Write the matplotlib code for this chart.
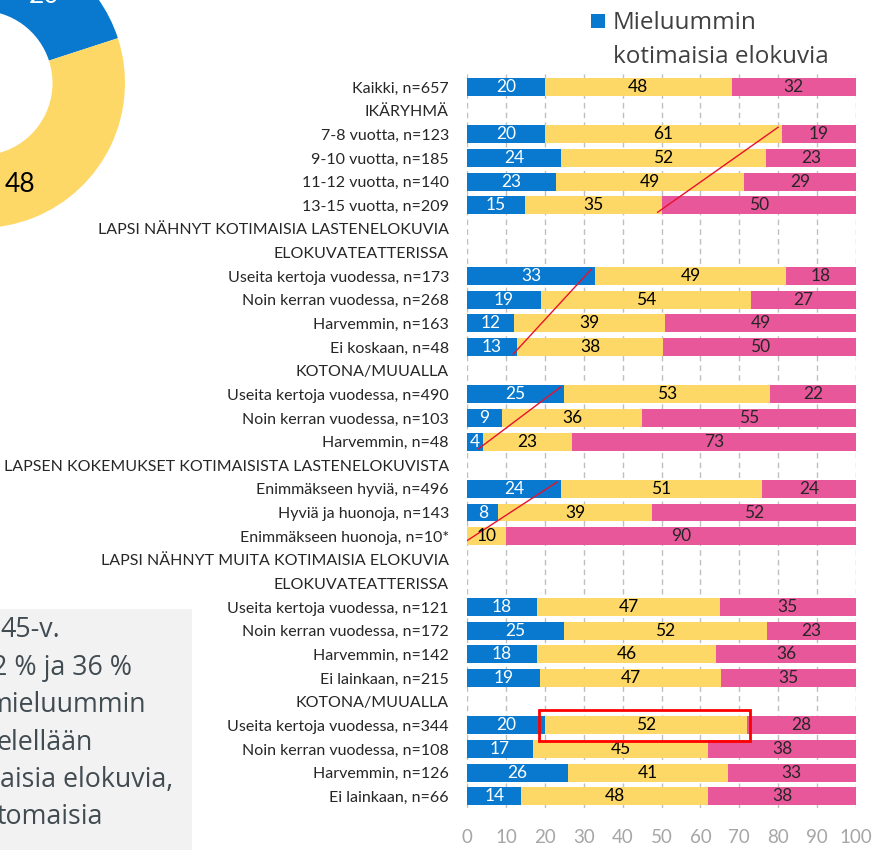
import matplotlib
matplotlib.use('Agg')
import matplotlib.pyplot as plt
from matplotlib.patches import Rectangle
import numpy as np

plt.rcParams['font.family'] = ['Lato', 'DejaVu Sans']

# category labels, top to bottom (None values = section header rows)
labels = ['Kaikki, n=657', 'IKÄRYHMÄ',
          '7-8 vuotta, n=123', '9-10 vuotta, n=185', '11-12 vuotta, n=140', '13-15 vuotta, n=209',
          'LAPSI NÄHNYT KOTIMAISIA LASTENELOKUVIA', 'ELOKUVATEATTERISSA',
          'Useita kertoja vuodessa, n=173', 'Noin kerran vuodessa, n=268', 'Harvemmin, n=163', 'Ei koskaan, n=48',
          'KOTONA/MUUALLA',
          'Useita kertoja vuodessa, n=490', 'Noin kerran vuodessa, n=103', 'Harvemmin, n=48',
          'LAPSEN KOKEMUKSET KOTIMAISISTA LASTENELOKUVISTA',
          'Enimmäkseen hyviä, n=496', 'Hyviä ja huonoja, n=143', 'Enimmäkseen huonoja, n=10*',
          'LAPSI NÄHNYT MUITA KOTIMAISIA ELOKUVIA', 'ELOKUVATEATTERISSA',
          'Useita kertoja vuodessa, n=121', 'Noin kerran vuodessa, n=172', 'Harvemmin, n=142', 'Ei lainkaan, n=215',
          'KOTONA/MUUALLA',
          'Useita kertoja vuodessa, n=344', 'Noin kerran vuodessa, n=108', 'Harvemmin, n=126', 'Ei lainkaan, n=66']

blue = [20, None, 20, 24, 23, 15, None, None, 33, 19, 12, 13, None, 25, 9, 4, None,
        24, 8, 0, None, None, 18, 25, 18, 19, None, 20, 17, 26, 14]
yellow = [48, None, 61, 52, 49, 35, None, None, 49, 54, 39, 38, None, 53, 36, 23, None,
          51, 39, 10, None, None, 47, 52, 46, 47, None, 52, 45, 41, 48]
pink = [32, None, 19, 23, 29, 50, None, None, 18, 27, 49, 50, None, 22, 55, 73, None,
        24, 52, 90, None, None, 35, 23, 36, 35, None, 28, 38, 33, 38]

donut_vals = [20, 48, 32]
legend_lines = ['Mieluummin', 'kotimaisia elokuvia']
box_lines = ['45-v.', '2 % ja 36 %', 'mieluummin', 'elellään', 'aisia elokuvia,', 'tomaisia']

c_blue, c_yellow, c_pink = '#0879CE', '#FDD867', '#E9579B'

W, H = 875, 850
fig = plt.figure(figsize=(W / 100, H / 100), dpi=100)

# grey text box at bottom left
fig.patches.append(Rectangle((0, 0), 192 / W, (H - 609) / H, transform=fig.transFigure,
                             facecolor='#f2f2f2', edgecolor='none', zorder=0))
box_x = [0, -8, -12, -3, 0, -3]
for i, (t, dx) in enumerate(zip(box_lines, box_x)):
    fig.text(dx / W, 1 - (637 + 37.5 * i) / H, t, fontsize=19.3, color='#414B52',
             family=['Open Sans', 'DejaVu Sans'], va='baseline', ha='left')

# donut (only part visible)
R = 145
pax = fig.add_axes([(-20 - R) / W, 1 - (83 + R) / H, 2 * R / W, 2 * R / H])
wedges, _, autotexts = pax.pie(donut_vals, colors=[c_blue, c_yellow, c_pink], startangle=90,
                               counterclock=False, radius=1, autopct=lambda p: '%d' % round(p),
                               pctdistance=0.75, wedgeprops=dict(width=0.5, linewidth=0),
                               textprops=dict(fontsize=19))
autotexts[0].set_color('white')
pax.set_xlim(-1, 1)
pax.set_ylim(-1, 1)

# legend (first entry only)
fig.patches.append(Rectangle((591 / W, 1 - 28 / H), 14 / W, 14 / H, transform=fig.transFigure,
                             facecolor=c_blue, edgecolor='none'))
for i, t in enumerate(legend_lines):
    fig.text(613 / W, 1 - (29 + 34 * i) / H, t, fontsize=17.5, color='#404040', va='baseline',
             ha='left', family=['Open Sans', 'DejaVu Sans'])

# stacked bars (each row scaled to fill 100 %, labels keep the rounded values)
ax = fig.add_axes([467 / W, 1 - 808 / H, 389 / W, 734 / H])
rows = np.arange(len(labels))
idx = [i for i in rows if blue[i] is not None]
b = np.array([blue[i] for i in idx], float)
y = np.array([yellow[i] for i in idx], float)
p = np.array([pink[i] for i in idx], float)
tot = (b + y + p) / 100
bw, yw, pw = b / tot, y / tot, p / tot

h = 0.76
cb = ax.barh(idx, bw, height=h, color=c_blue)
cy = ax.barh(idx, yw, left=bw, height=h, color=c_yellow)
cp = ax.barh(idx, pw, left=bw + yw, height=h, color=c_pink)
ax.bar_label(cb, labels=['%d' % v if v > 0 else '' for v in b], label_type='center',
             color='white', fontsize=12.5)
ax.bar_label(cy, labels=['%d' % v for v in y], label_type='center', color='black', fontsize=12.5)
ax.bar_label(cp, labels=['%d' % v for v in p], label_type='center', color='#262626', fontsize=12.5)

ax.set_xlim(0, 100)
ax.set_ylim(len(labels) - 0.5, -0.55)
ax.set_xticks(range(0, 101, 10))
ax.set_yticks(rows)
ax.set_yticklabels(labels, fontsize=11.5, color='#262626')
ax.tick_params(axis='y', length=0, pad=13)
ax.tick_params(axis='x', length=0, pad=15, labelsize=13.5, labelcolor='#a6a6a6')
for s in ax.spines.values():
    s.set_visible(False)
ax.set_axisbelow(True)
ax.grid(axis='x', color='#bfbfbf', linestyle=(0, (4, 3)), linewidth=1)

# red trend annotations
lookup = dict(zip(idx, zip(bw, bw + yw)))
for r0, r1, k in [(2, 5, 1), (8, 11, 0), (13, 15, 0), (17, 19, 0)]:
    ax.plot([lookup[r0][k] - 1, lookup[r1][k] - 1], [r0 - 0.3, r1 + 0.3],
            color='#E8112D', linewidth=1)

# red box around highlighted row
hb, hy = lookup[27]
ax.add_patch(Rectangle((hb - 1.5, 27 - 0.65), hy - hb + 2.2, 1.3, fill=False,
                       edgecolor='#FF0000', linewidth=2, zorder=5))

fig.savefig('out.png', dpi=100)
